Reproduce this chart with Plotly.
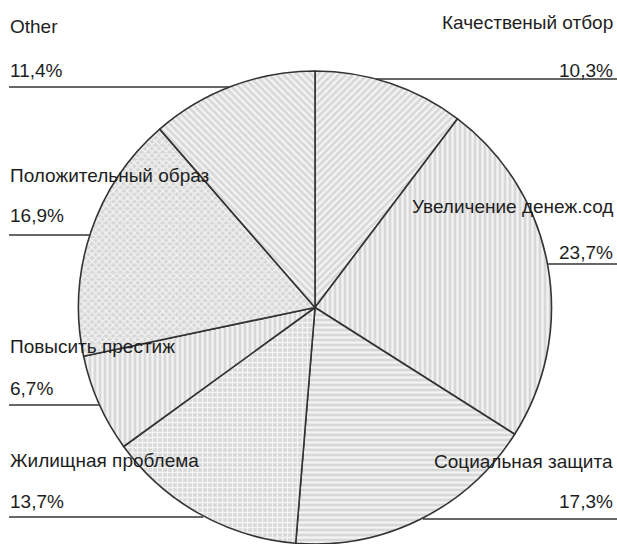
import math
import plotly.graph_objects as go

# ---- data (clockwise from 12 o'clock) ----
labels = ["Качественый отбор", "Увеличение денеж.сод", "Социальная защита",
          "Жилищная проблема", "Повысить престиж", "Положительный образ", "Other"]
values = [10.3, 23.7, 17.3, 13.7, 6.7, 16.9, 11.4]
pct_text = ["10,3%", "23,7%", "17,3%", "13,7%", "6,7%", "16,9%", "11,4%"]
patterns = ["/", "|", "-", "+", "|", "x", "\\"]

W, H = 617, 544
CX, CY, R = 315, 308, 237

# label layout: side, name cap-centre y, pct cap-centre y, underline y (pixels)
layout_spec = {
    "Качественый отбор": ("right", 23, 71, 79),
    "Увеличение денеж.сод": ("right", 206, 252, 264),
    "Социальная защита": ("right", 461, 501, 519),
    "Жилищная проблема": ("left", 460, 501, 517),
    "Повысить престиж": ("left", 346, 388, 405),
    "Положительный образ": ("left", 176, 216, 235),
    "Other": ("left", 26, 70, 87),
}

def py(y):
    return 1 - y / H

def px(x):
    return x / W

fig = go.Figure(go.Pie(
    labels=labels,
    values=values,
    sort=False,
    direction="clockwise",
    rotation=0,
    textinfo="none",
    hoverinfo="label+percent",
    showlegend=False,
    domain=dict(x=[px(CX - R), px(CX + R)], y=[0, py(CY - R)]),
    marker=dict(
        colors=["#dadada"] * len(labels),
        line=dict(color="#333333", width=1.6),
        pattern=dict(shape=patterns, bgcolor="#d8d8d8", fgcolor="#f4f4f4",
                     size=5, solidity=0.45, fillmode="replace"),
    ),
))

font = dict(family="Liberation Sans, Arial, sans-serif", size=19, color="#1e1e1e")
annotations = []
shapes = []
for lab, pct in zip(labels, pct_text):
    side, yn, yp, yl = layout_spec[lab]
    dy = yl - CY
    dx = math.sqrt(max(R * R - dy * dy, 0))
    if side == "left":
        xa, anchor = px(8), "left"
        x0, x1 = 9, CX - dx
    else:
        xa, anchor = px(615), "right"
        x0, x1 = CX + dx, W
    annotations.append(dict(text=lab, x=xa, y=py(yn), xref="paper", yref="paper",
                            xanchor=anchor, yanchor="middle", showarrow=False, font=font))
    annotations.append(dict(text=pct, x=xa, y=py(yp), xref="paper", yref="paper",
                            xanchor=anchor, yanchor="middle", showarrow=False, font=font))
    shapes.append(dict(type="line", xref="paper", yref="paper",
                       x0=px(x0), x1=px(x1), y0=py(yl), y1=py(yl),
                       line=dict(color="#333333", width=1.6)))

fig.update_layout(
    width=W, height=H,
    margin=dict(l=0, r=0, t=0, b=0),
    paper_bgcolor="white",
    plot_bgcolor="white",
    annotations=annotations,
    shapes=shapes,
)

fig.write_html("out.html",
               config={"displayModeBar": False},
               post_script="document.body.style.margin='0';document.body.style.overflow='hidden';")
